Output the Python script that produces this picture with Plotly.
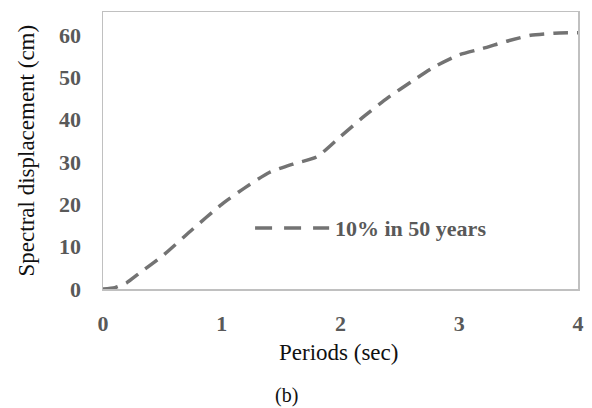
import plotly.graph_objects as go

periods = [0.0, 0.1, 0.2, 0.3, 0.5, 0.75, 1.0, 1.2, 1.4, 1.6, 1.8, 2.0, 2.2, 2.4, 2.6, 2.8, 3.0, 3.2, 3.4, 3.6, 3.8, 4.0]
displacement = [0.0, 0.3, 1.5, 3.6, 7.8, 14.0, 20.0, 24.0, 27.5, 29.5, 31.2, 36.0, 40.8, 45.2, 49.0, 52.6, 55.3, 56.8, 58.5, 59.9, 60.4, 60.5]
series_name = "10% in 50 years"
x_ticks = [0, 1, 2, 3, 4]
y_ticks = [0, 10, 20, 30, 40, 50, 60]

LINE = "#737373"
TICK = "#595959"
FONT = "Liberation Serif, Times New Roman, serif"

PW, PH = 481, 277  # plot area size

fig = go.Figure()
fig.add_trace(go.Scatter(
    x=periods, y=displacement, mode="lines", name=series_name,
    line=dict(color=LINE, width=3.5, dash="15px,9px", shape="spline", smoothing=0.6),
    showlegend=False, cliponaxis=False, hoverinfo="skip",
))

# legend drawn manually (long line sample like the original)
fig.add_shape(type="line", xref="paper", yref="paper", x0=(257 - 103) / PW, x1=(332 - 103) / PW,
              y0=(289 - 228) / PH, y1=(289 - 228) / PH,
              line=dict(color=LINE, width=3.5, dash="17px,12px"))
fig.add_annotation(text="<b>" + series_name + "</b>", xref="paper", yref="paper", x=(336 - 103) / PW,
                   y=(289 - 228) / PH, xanchor="left", yanchor="middle", showarrow=False,
                   font=dict(family=FONT, size=22, color=TICK))

# axis titles and caption
fig.add_annotation(text="Periods (sec)", xref="paper", yref="paper", x=(341 - 103) / PW, y=-(352 - 289) / PH,
                   xanchor="center", yanchor="middle", showarrow=False,
                   font=dict(family=FONT, size=23, color="#111111"))
fig.add_annotation(text="Spectral displacement (cm)", xref="paper", yref="paper", x=-(103 - 26) / PW, y=0.5,
                   xanchor="center", yanchor="middle", showarrow=False, textangle=-90,
                   font=dict(family=FONT, size=23, color="#111111"))
fig.add_annotation(text="(b)", xref="paper", yref="paper", x=(289 - 103) / PW, y=-(395 - 289) / PH,
                   xanchor="center", yanchor="middle", showarrow=False,
                   font=dict(family=FONT, size=20, color="#111111"))

fig.update_layout(
    width=592, height=408,
    margin=dict(l=103, r=8, t=12, b=119),
    paper_bgcolor="white", plot_bgcolor="white",
    font=dict(family=FONT, color=TICK),
    hovermode=False,
)
fig.update_xaxes(
    range=[0, 4], tickvals=x_ticks, ticktext=[f"<b>{v}</b>" for v in x_ticks],
    showgrid=False, zeroline=False, showline=True, linecolor="#c0c0c0", linewidth=1.5, mirror=True,
    ticks="", ticklabelstandoff=14, ticklabeloverflow="allow",
    tickfont=dict(family=FONT, size=22, color=TICK),
)
fig.update_yaxes(
    range=[0, 65.4], tickvals=y_ticks, ticktext=[f"<b>{v}</b>" for v in y_ticks],
    showgrid=False, zeroline=False, showline=True, linecolor="#c0c0c0", linewidth=1.5, mirror=True,
    ticks="", ticklabelstandoff=16, ticklabeloverflow="allow",
    tickfont=dict(family=FONT, size=22, color=TICK),
)

fig.write_html("out.html", config={"displayModeBar": False, "staticPlot": True},
               post_script="document.body.style.margin='0';document.body.style.overflow='hidden';")
